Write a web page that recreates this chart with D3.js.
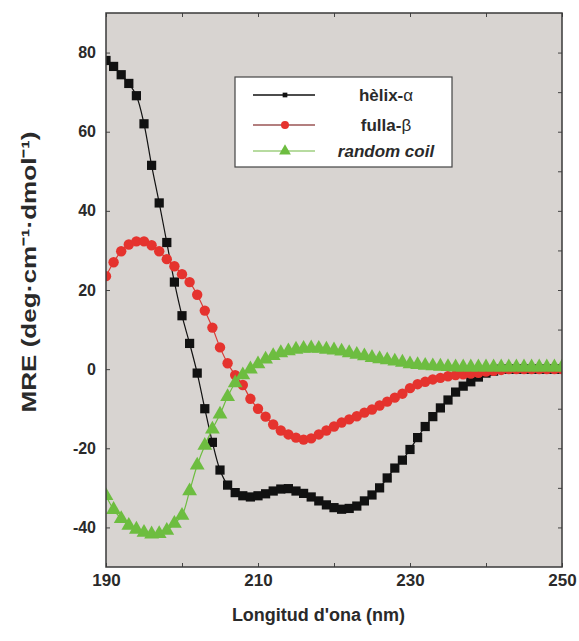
<!DOCTYPE html>
<html>
<head>
<meta charset="utf-8">
<script src="https://cdn.jsdelivr.net/npm/d3@7"></script>
<style>
  body { margin: 0; background: #fff; }
  text { font-family: "Liberation Sans", Arial, sans-serif; }
</style>
</head>
<body>
<svg class="cd-svg"></svg>
<script>
const wavelengths = [
  190, 191, 192, 193, 194, 195, 196, 197, 198, 199,
  200, 201, 202, 203, 204, 205, 206, 207, 208, 209,
  210, 211, 212, 213, 214, 215, 216, 217, 218, 219,
  220, 221, 222, 223, 224, 225, 226, 227, 228, 229,
  230, 231, 232, 233, 234, 235, 236, 237, 238, 239,
  240, 241, 242, 243, 244, 245, 246, 247, 248, 249,
  250,
];

// hèlix-α
const helixValues = [
  78, 76.5, 74.4, 72.2, 69.1, 62, 51.5, 42, 32, 22,
  13.5, 6.5, -1, -10, -18.5, -25.5, -29.3, -31.2, -32, -32.3,
  -32, -31.5, -30.8, -30.3, -30.2, -30.8, -31.4, -32.3, -33.3, -34.3,
  -35, -35.4, -35.2, -34.6, -33.3, -31.8, -30, -27.5, -25, -23,
  -20.3, -17.3, -14.5, -12, -9.8, -7.8, -5.8, -4.3, -3.2, -2,
  -1, -0.5, 0, 0, 0, 0, 0, 0, 0, 0,
  0,
];

// fulla-β
const sheetValues = [
  23.5, 27, 29.8, 31.5, 32.3, 32.3, 31.3, 29.8, 27.8, 26,
  24, 22, 18.8, 14.8, 10.5, 5.5, 1.5, -1.5, -4, -7.5,
  -10, -12, -14, -15.5, -16.5, -17.3, -17.8, -17.5, -16.5, -15.5,
  -14.5, -13.5, -12.7, -11.9, -11, -10.2, -9.2, -8.2, -7.2, -6.2,
  -4.8, -3.8, -3.2, -2.6, -2.2, -1.8, -1.5, -1.3, -1.1, -0.9,
  -0.6, -0.4, -0.2, 0, 0, 0, 0, 0, 0, 0,
  0,
];

// random coil
const coilValues = [
  -32, -35.5, -37.8, -39.5, -40.5, -41.3, -41.7, -41.6, -40.8, -39,
  -37, -30.8, -24.3, -19.3, -15.2, -11.4, -7, -3.5, -1.5, 0,
  1.3, 2.5, 3.4, 4.1, 4.6, 5, 5.2, 5.3, 5.2, 5,
  4.8, 4.5, 4.1, 3.7, 3.3, 2.9, 2.6, 2.3, 2, 1.7,
  1.3, 1.1, 0.9, 0.8, 0.7, 0.6, 0.5, 0.5, 0.5, 0.5,
  0.5, 0.5, 0.5, 0.5, 0.5, 0.5, 0.5, 0.5, 0.5, 0.5,
  0.5,
];

const xTicks = [190, 200, 210, 220, 230, 240, 250];
const xTickLabels = ["190", "", "210", "", "230", "", "250"];
const yTicksLeft = [-40, -20, 0, 20, 40, 60, 80];
const yTickLabels = ["-40", "-20", "0", "20", "40", "60", "80"];
const yTicksRight = [-40, -30, -20, -10, 0, 10, 20, 30, 40, 50, 60, 70, 80];

const seriesNames = ["hèlix-", "fulla-", "random coil"];
const seriesGreek = ["α", "β", ""];

const width = 579;
const height = 641;
const plot = { left: 106, right: 562, top: 13, bottom: 567 };

const svg = d3.select('.cd-svg')
  .attr('width', width)
  .attr('height', height);

const x = d3.scaleLinear().domain([190, 250]).range([plot.left, plot.right]);
const y = d3.scaleLinear().domain([-50, 90]).range([plot.bottom, plot.top]);

// plot background
svg.append('rect')
  .attr('x', plot.left)
  .attr('y', plot.top)
  .attr('width', plot.right - plot.left)
  .attr('height', plot.bottom - plot.top)
  .attr('fill', '#d8d4d1');

// axes (ticks point inward)
const xAxis = d3.axisBottom(x)
  .tickValues(xTicks)
  .tickFormat((d, i) => xTickLabels[i])
  .tickSizeInner(-4)
  .tickSizeOuter(0)
  .tickPadding(7);

svg.append('g')
  .attr('transform', `translate(0,${plot.bottom})`)
  .call(xAxis)
  .call(g => g.select('.domain').remove())
  .call(g => g.selectAll('line').attr('stroke', '#444'))
  .call(g => g.selectAll('text')
    .attr('font-size', 17)
    .attr('font-weight', 'bold')
    .attr('fill', '#2a2a2a'));

const yAxis = d3.axisLeft(y)
  .tickValues(yTicksLeft)
  .tickFormat((d, i) => yTickLabels[i])
  .tickSizeInner(-4)
  .tickSizeOuter(0)
  .tickPadding(10);

svg.append('g')
  .attr('transform', `translate(${plot.left},0)`)
  .call(yAxis)
  .call(g => g.select('.domain').remove())
  .call(g => g.selectAll('line').attr('stroke', '#444'))
  .call(g => g.selectAll('text')
    .attr('font-size', 16)
    .attr('font-weight', 'bold')
    .attr('fill', '#2a2a2a'));

svg.append('g')
  .attr('transform', `translate(${plot.right},0)`)
  .call(d3.axisRight(y).tickValues(yTicksRight).tickSizeInner(-4).tickSizeOuter(0).tickFormat(''))
  .call(g => g.select('.domain').remove())
  .call(g => g.selectAll('line').attr('stroke', '#444'));

svg.append('g')
  .attr('transform', `translate(0,${plot.top})`)
  .call(d3.axisTop(x).tickValues(xTicks).tickSizeInner(-4).tickSizeOuter(0).tickFormat(''))
  .call(g => g.select('.domain').remove())
  .call(g => g.selectAll('line').attr('stroke', '#444'));

// data
const clipId = 'plot-clip';
svg.append('clipPath').attr('id', clipId)
  .append('rect')
  .attr('x', plot.left)
  .attr('y', plot.top)
  .attr('width', plot.right - plot.left)
  .attr('height', plot.bottom - plot.top);

const line = d3.line()
  .x(d => x(d[0]))
  .y(d => y(d[1]))
  .curve(d3.curveCatmullRom);

const series = [
  { values: helixValues, color: '#111', lineColor: '#111', symbol: d3.symbolSquare, size: 85 },
  { values: sheetValues, color: '#e5332e', lineColor: '#d83a35', symbol: d3.symbolCircle, size: 85 },
  { values: coilValues, color: '#6dbd40', lineColor: '#6dbd40', symbol: d3.symbolTriangle, size: 95 },
];

const dataLayer = svg.append('g').attr('clip-path', `url(#${clipId})`);

series.forEach(s => {
  const pts = wavelengths.map((w, i) => [w, s.values[i]]);
  dataLayer.append('path')
    .datum(pts)
    .attr('d', line)
    .attr('fill', 'none')
    .attr('stroke', s.lineColor)
    .attr('stroke-width', 1.2);

  dataLayer.selectAll(null)
    .data(pts)
    .join('path')
    .attr('transform', d => `translate(${x(d[0])},${y(d[1])})`)
    .attr('d', d3.symbol().type(s.symbol).size(s.size))
    .attr('fill', s.color);
});

// frame
svg.append('rect')
  .attr('x', plot.left)
  .attr('y', plot.top)
  .attr('width', plot.right - plot.left)
  .attr('height', plot.bottom - plot.top)
  .attr('fill', 'none')
  .attr('stroke', '#3a3a3a')
  .attr('stroke-width', 1.5);

// legend
const legend = svg.append('g');
legend.append('rect')
  .attr('x', 235)
  .attr('y', 77)
  .attr('width', 217)
  .attr('height', 90)
  .attr('fill', '#fff')
  .attr('stroke', '#444')
  .attr('stroke-width', 1.2);

const legendRows = [95, 125, 151];
const legendLineColors = ['#111', '#9a5555', '#9fcf80'];
const legendSizes = [22, 50, 60];

series.forEach((s, i) => {
  const ly = legendRows[i];
  legend.append('line')
    .attr('x1', 253).attr('x2', 315)
    .attr('y1', ly).attr('y2', ly)
    .attr('stroke', legendLineColors[i])
    .attr('stroke-width', 1.5);
  legend.append('path')
    .attr('transform', `translate(285,${ly})`)
    .attr('d', d3.symbol().type(s.symbol).size(legendSizes[i]))
    .attr('fill', s.color);

  const t = legend.append('text')
    .attr('x', 386)
    .attr('y', ly + 6)
    .attr('text-anchor', 'middle')
    .attr('font-size', 17)
    .attr('font-weight', 'bold')
    .attr('fill', '#2a2a2a')
    .attr('font-style', i === 2 ? 'italic' : 'normal');
  t.append('tspan').text(seriesNames[i]);
  if (seriesGreek[i]) {
    t.append('tspan').attr('font-weight', 'normal').text(seriesGreek[i]);
  }
});

// axis titles
svg.append('text')
  .attr('x', 318.5)
  .attr('y', 621)
  .attr('text-anchor', 'middle')
  .attr('font-size', 18)
  .attr('font-weight', 'bold')
  .attr('fill', '#2a2a2a')
  .text("Longitud d'ona (nm)");

svg.append('text')
  .attr('transform', 'translate(36,272) rotate(-90)')
  .attr('text-anchor', 'middle')
  .attr('font-size', 21)
  .attr('font-weight', 'bold')
  .attr('fill', '#2a2a2a')
  .attr('textLength', 281)
  .attr('lengthAdjust', 'spacingAndGlyphs')
  .text('MRE (deg·cm⁻¹·dmol⁻¹)');
</script>
</body>
</html>
